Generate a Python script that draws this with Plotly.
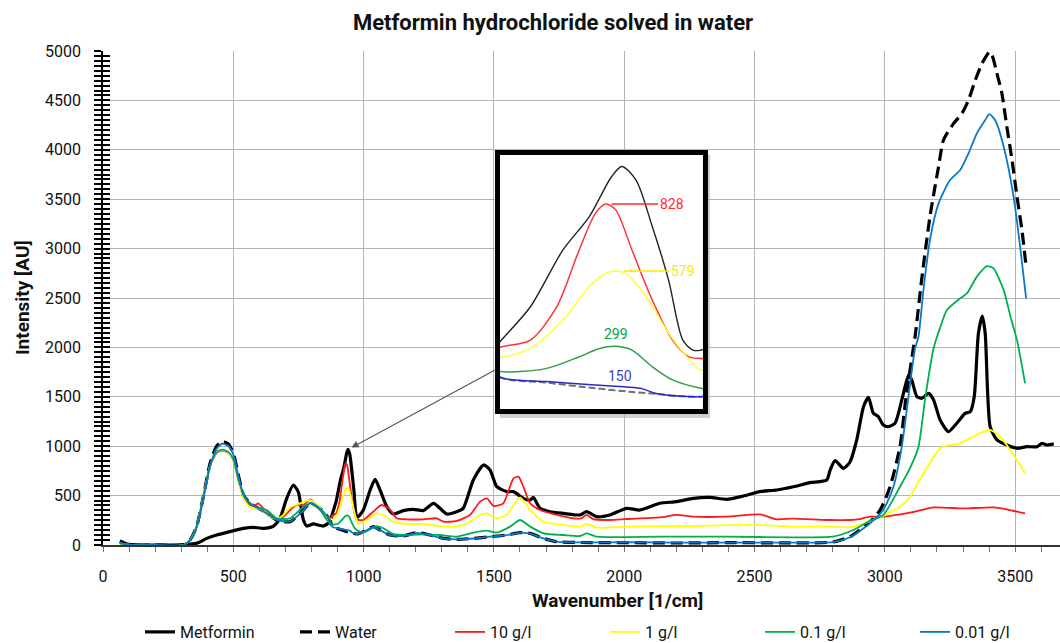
import plotly.graph_objects as go

# ---- spectra: wavenumber [1/cm] and intensity [AU] ----
wn_metformin = [65, 91, 150, 250, 310, 359, 398, 436, 487, 539, 577, 615, 654, 679, 705, 730, 749, 769, 782, 807,
                846, 871, 880, 895, 911, 924, 935, 940, 947, 955, 963, 970, 975, 979, 999, 1025, 1044, 1063, 1089,
                1114, 1152, 1191, 1229, 1268, 1293, 1319, 1357, 1382, 1421, 1460, 1485, 1511, 1549, 1575, 1613,
                1639, 1651, 1677, 1715, 1767, 1830, 1856, 1894, 1945, 2009, 2060, 2137, 2201, 2265, 2329, 2393,
                2457, 2521, 2585, 2649, 2713, 2777, 2790, 2809, 2841, 2866, 2892, 2918, 2937, 2956, 2975, 2994,
                3014, 3039, 3065, 3091, 3103, 3123, 3142, 3168, 3187, 3212, 3244, 3276, 3308, 3328, 3343, 3359,
                3374, 3385, 3404, 3430, 3468, 3507, 3545, 3584, 3603, 3622, 3648]
int_metformin = [40, 10, 0, 0, 5, 17, 67, 101, 135, 169, 179, 169, 192, 270, 472, 607, 540, 253, 192, 213,
                 192, 236, 316, 446, 657, 781, 930, 967, 917, 744, 546, 323, 285, 285, 354, 557, 665, 557, 388,
                 314, 348, 361, 348, 422, 371, 314, 337, 371, 658, 810, 759, 590, 540, 540, 472,
                 455, 482, 371, 337, 320, 304, 337, 287, 304, 371, 354, 422, 439, 472, 482, 462,
                 496, 540, 557, 590, 631, 658, 759, 854, 776, 840, 1063, 1400, 1495, 1333, 1299, 1215,
                 1198, 1232, 1468, 1721, 1670, 1502, 1485, 1535, 1468, 1265, 1147, 1232, 1333, 1350, 1502, 2143,
                 2318, 2143, 1198, 1063, 1012, 979, 995, 995, 1029, 1012, 1023]

wn_water = [65, 104, 200, 308, 334, 359, 385, 411, 436, 457, 480, 500, 520, 539, 564, 590, 628, 666, 718, 769, 795,
            833, 871, 880, 903, 927, 944, 957, 968, 979, 1012, 1037, 1063, 1101, 1152, 1204, 1255, 1306, 1357,
            1421, 1485, 1549, 1600, 1639, 1690, 1741, 1869, 2000, 2200, 2400, 2600, 2800, 2866, 2943, 2982,
            3020, 3058, 3081, 3104, 3116, 3141, 3173, 3206, 3225, 3264, 3296, 3321, 3347, 3373, 3392, 3400,
            3411, 3430, 3449, 3468, 3488, 3507, 3526, 3542]
int_water = [34, 0, 0, 0, 51, 186, 489, 827, 1000, 1050, 1025, 930, 700, 506, 422, 381, 320, 253, 236, 354, 428,
             371, 253, 184, 164, 143, 130, 122, 114, 112, 152, 186, 152, 101, 91, 125, 101, 67, 57,
             67, 84, 101, 125, 118, 67, 34, 24, 24, 20, 24, 22, 30, 84, 236, 354,
             590, 995, 1491, 1900, 2108, 2682, 3323, 3829, 4099, 4267, 4369, 4504, 4706, 4875, 4960, 4990,
             4960, 4774, 4571, 4234, 3896, 3525, 3188, 2817]

wn_10gl = [65, 116, 308, 334, 359, 385, 411, 436, 457, 480, 500, 520, 539, 564, 584, 596, 615, 641, 666, 692, 718,
           743, 769, 795, 820, 846, 871, 880, 895, 908, 919, 927, 932, 937, 945, 955, 965, 973, 979, 999, 1037,
           1069, 1101, 1127, 1165, 1229, 1280, 1306, 1357, 1408, 1447, 1473, 1498, 1536, 1575, 1594, 1613,
           1639, 1677, 1741, 1805, 1835, 1856, 1880, 1945, 2009, 2137, 2201, 2265, 2393, 2521, 2585, 2649,
           2777, 2866, 2905, 2943, 2994, 3097, 3187, 3288, 3315, 3417, 3480, 3538]
int_10gl = [17, 0, 0, 51, 186, 489, 800, 930, 955, 935, 860, 650, 489, 405, 405, 422, 371, 320, 260, 287, 354,
            405, 405, 462, 405, 320, 260, 295, 322, 446, 657, 793, 828, 806, 657, 471, 322, 260, 254, 253, 337,
            405, 361, 270, 260, 260, 270, 236, 243, 304, 439, 472, 395, 422, 675, 692, 590,
            422, 354, 304, 270, 270, 304, 262, 253, 263, 280, 304, 287, 287, 310, 260, 267,
            253, 253, 263, 287, 287, 327, 381, 371, 371, 381, 354, 320]

wn_1gl = [65, 116, 308, 334, 359, 385, 411, 436, 457, 480, 500, 520, 539, 564, 590, 615, 641, 666, 692, 718, 756,
          795, 833, 859, 880, 895, 911, 924, 932, 936, 942, 952, 962, 972, 979, 1012, 1050, 1076, 1114, 1165,
          1229, 1293, 1357, 1408, 1447, 1473, 1511, 1549, 1600, 1639, 1690, 1767, 1830, 1856, 1894, 2009,
          2137, 2265, 2393, 2521, 2649, 2777, 2866, 2943, 2994, 3058, 3097, 3148, 3212, 3250, 3289, 3328,
          3379, 3404, 3436, 3481, 3538]
int_1gl = [17, 0, 0, 51, 186, 489, 805, 935, 960, 940, 865, 655, 470, 381, 371, 337, 287, 260, 304, 381, 422,
           455, 381, 287, 258, 291, 397, 521, 570, 579, 570, 483, 360, 260, 211, 253, 320, 304, 236, 213,
           213, 192, 186, 236, 304, 320, 270, 304, 482, 354, 236, 202, 186, 213, 175, 186,
           192, 192, 202, 202, 186, 186, 180, 240, 295, 388, 489, 726, 979, 1012, 1029, 1080,
           1147, 1164, 1113, 962, 726]

wn_01gl = [65, 116, 308, 334, 359, 385, 411, 436, 457, 480, 500, 520, 552, 590, 628, 666, 718, 769, 795, 833, 859,
           880, 903, 919, 929, 937, 945, 955, 965, 979, 999, 1050, 1076, 1114, 1165, 1229, 1293, 1357, 1421,
           1473, 1511, 1562, 1600, 1639, 1690, 1767, 1830, 1856, 1894, 2137, 2393, 2649, 2800, 2879, 2943,
           2994, 3058, 3097, 3129, 3155, 3187, 3212, 3238, 3289, 3315, 3353, 3392, 3417, 3456, 3482, 3507, 3538]
int_01gl = [17, 0, 0, 51, 186, 489, 810, 940, 965, 945, 870, 660, 455, 381, 354, 270, 270, 388, 422, 354, 253,
            205, 217, 260, 291, 299, 285, 223, 174, 143, 125, 192, 169, 111, 101, 108, 101, 84, 125,
            145, 125, 186, 253, 186, 118, 101, 91, 118, 84, 84, 84, 78, 84, 152, 245,
            304, 590, 780, 995, 1491, 1991, 2200, 2378, 2496, 2547, 2716, 2823, 2800, 2580, 2311, 2074, 1636]

wn_001gl = [65, 104, 200, 308, 334, 359, 385, 411, 436, 457, 480, 500, 520, 539, 564, 590, 628, 666, 718, 769, 795,
            833, 871, 880, 903, 927, 939, 949, 957, 968, 979, 1012, 1037, 1063, 1101, 1152, 1204, 1255, 1306,
            1357, 1421, 1485, 1549, 1600, 1639, 1690, 1741, 1869, 2000, 2200, 2400, 2600, 2800, 2866, 2943,
            2994, 3033, 3065, 3090, 3116, 3129, 3148, 3173, 3206, 3250, 3289, 3321, 3353, 3385, 3401, 3423,
            3456, 3494, 3519, 3542]
int_001gl = [25, 0, 0, 0, 45, 175, 470, 800, 975, 1025, 1005, 915, 690, 500, 420, 380, 320, 255, 238, 350, 425,
             368, 255, 184, 168, 155, 150, 143, 124, 114, 112, 150, 182, 150, 100, 90, 122, 100, 66,
             56, 66, 84, 100, 122, 116, 66, 34, 26, 28, 25, 25, 25, 30, 78, 219,
             354, 590, 995, 1491, 1991, 2108, 2581, 3087, 3458, 3694, 3795, 3964, 4166, 4301, 4362, 4301,
             4031, 3525, 3019, 2496]

# peak positions annotated in the magnified view
inset_peak_wn = {"10 g/l": 932, "1 g/l": 936, "0.1 g/l": 937, "0.01 g/l": 939}

FONT = "Roboto, Open Sans, sans-serif"

series = [
    ("Metformin", wn_metformin, int_metformin,
     dict(color="#000000", width=3.2), dict(color="#222222", width=1.4)),
    ("Water", wn_water, int_water,
     dict(color="#000000", width=3.2, dash="12px,6px"), dict(color="#707070", width=2, dash="7px,3px")),
    ("10 g/l", wn_10gl, int_10gl,
     dict(color="#ff1a1a", width=1.8), dict(color="#ff3333", width=1.5)),
    ("1 g/l", wn_1gl, int_1gl,
     dict(color="#ffff00", width=1.8), dict(color="#ffff33", width=1.5)),
    ("0.1 g/l", wn_01gl, int_01gl,
     dict(color="#00b050", width=1.8), dict(color="#2e9e48", width=1.5)),
    ("0.01 g/l", wn_001gl, int_001gl,
     dict(color="#0a78c8", width=1.8), dict(color="#2a2ac8", width=1.5)),
]

fig = go.Figure()

for name, x, y, main_line, _ in series:
    fig.add_trace(go.Scatter(x=x, y=y, name=name, mode="lines",
                             line=dict(shape="spline", smoothing=0.6, **main_line)))

# helper axis carrying the inner half of the crossing y ticks
fig.add_trace(go.Scatter(x=[], y=[], yaxis="y3", showlegend=False, hoverinfo="skip"))

# magnified view of the ~930 1/cm band
for name, x, y, _, inset_line in series:
    fig.add_trace(go.Scatter(x=x, y=y, name=name, mode="lines", xaxis="x2", yaxis="y2",
                             showlegend=False,
                             line=dict(shape="spline", smoothing=0.8, **inset_line)))

lookup = {name: dict(zip(x, y)) for name, x, y, _, _ in series}

inset_x = [0.4148, 0.627]
inset_y = [0.2753, 0.7895]

annotations = []
# value labels inside the magnified view
label_style = {
    "10 g/l": dict(color="#ff2a2a", ax=66, ay=0, standoff=6, arrow=True),
    "1 g/l": dict(color="#ffe800", ax=69, ay=0, standoff=10, arrow=True),
    "0.1 g/l": dict(color="#00a544", yshift=12, arrow=False),
    "0.01 g/l": dict(color="#4040c8", yshift=10, arrow=False),
}
for name, wn in inset_peak_wn.items():
    val = lookup[name][wn]
    st = label_style[name]
    a = dict(x=wn, y=val, xref="x2", yref="y2", text=f"{val}",
             font=dict(family=FONT, size=14, color=st["color"]))
    if st["arrow"]:
        a.update(showarrow=True, arrowhead=0, arrowwidth=1.6, arrowcolor=st["color"],
                 ax=st["ax"], ay=st["ay"], standoff=st["standoff"])
    else:
        a.update(showarrow=False, yshift=st["yshift"], yanchor="middle")
    annotations.append(a)

# pointer from the magnified view to the band it shows
peak_wn = max((w for w in wn_metformin if 900 <= w <= 980), key=lambda w: lookup["Metformin"][w])
annotations.append(dict(x=peak_wn, y=lookup["Metformin"][peak_wn], xref="x", yref="y",
                        ax=1512, ay=1781, axref="x", ayref="y", text="", showarrow=True,
                        arrowhead=2, arrowsize=1.3, arrowwidth=1.1, arrowcolor="#555555", standoff=4))

# axis titles
annotations.append(dict(text="<b>Wavenumber [1/cm]</b>", x=(617 - 103) / 957, y=(545 - 600) / 494,
                        xref="paper", yref="paper", xanchor="center", yanchor="middle", showarrow=False,
                        font=dict(family=FONT, size=19, color="#111111")))
annotations.append(dict(text="<b>Intensity [AU]</b>", x=(22 - 103) / 957, y=0.5,
                        xref="paper", yref="paper", xanchor="center", yanchor="middle",
                        showarrow=False, textangle=-90,
                        font=dict(family=FONT, size=19, color="#111111")))

shapes = [
    # drop shadow, white panel and heavy frame of the magnified view
    dict(type="rect", xref="x2 domain", yref="y2 domain", x0=0.0, x1=1.035, y0=-0.035, y1=1.0,
         fillcolor="rgba(0,0,0,0.18)", line=dict(width=0), layer="below"),
    dict(type="rect", xref="x2 domain", yref="y2 domain", x0=-0.012, x1=1.012, y0=-0.01, y1=1.01,
         fillcolor="white", line=dict(width=0), layer="below"),
    dict(type="rect", xref="x2 domain", yref="y2 domain", x0=-0.012, x1=1.012, y0=-0.01, y1=1.01,
         line=dict(color="#000000", width=5), layer="above"),
]

axis_font = dict(family=FONT, size=16, color="#111111")
fig.update_layout(
    width=1060, height=643,
    margin=dict(l=103, r=0, t=51, b=98),
    paper_bgcolor="white", plot_bgcolor="white",
    font=dict(family=FONT, color="#111111"),
    title=dict(text="<b>Metformin hydrochloride solved in water</b>",
               x=553 / 1060, xref="container", xanchor="center",
               y=1 - 22 / 643, yref="container", yanchor="middle",
               font=dict(family=FONT, size=22, color="#111111")),
    xaxis=dict(range=[0, 3672], tick0=0, dtick=500, showgrid=True, gridcolor="#b4b4b4", gridwidth=1,
               zeroline=False, showline=True, linecolor="#333333", linewidth=1.5,
               ticks="outside", ticklen=5, tickcolor="#777777",
               minor=dict(dtick=100, ticks="outside", ticklen=5, tickcolor="#777777", showgrid=False),
               tickfont=axis_font, ticklabelstandoff=11),
    yaxis=dict(range=[0, 5000], tick0=0, dtick=500, showgrid=True, gridcolor="#b4b4b4", gridwidth=1,
               zeroline=False, showline=True, linecolor="#000000", linewidth=1.5,
               ticks="outside", ticklen=7, tickwidth=1.5, tickcolor="#000000",
               minor=dict(dtick=50, ticks="outside", ticklen=7, tickwidth=1.5, tickcolor="#000000",
                          showgrid=False),
               tickfont=axis_font, ticklabelstandoff=10),
    yaxis3=dict(range=[0, 5000], overlaying="y", anchor="x", side="left", showgrid=False,
                zeroline=False, showline=False, showticklabels=False,
                ticks="inside", ticklen=7, tickwidth=1.5, tickcolor="#000000", tick0=0, dtick=500,
                minor=dict(dtick=50, ticks="inside", ticklen=7, tickwidth=1.5, tickcolor="#000000")),
    xaxis2=dict(domain=inset_x, anchor="y2", range=[880, 980], showgrid=False, zeroline=False,
                showline=False, showticklabels=False, ticks=""),
    yaxis2=dict(domain=inset_y, anchor="x2", range=[66, 1010], showgrid=False, zeroline=False,
                showline=False, showticklabels=False, ticks=""),
    legend=dict(orientation="h", x=140 / 1060, xref="container", xanchor="left",
                y=1 - 632 / 643, yref="container", yanchor="middle",
                entrywidth=110, font=dict(family=FONT, size=16, color="#111111"),
                bgcolor="rgba(0,0,0,0)"),
    annotations=annotations,
    shapes=shapes,
    showlegend=True,
)

fig.write_html("out.html")
